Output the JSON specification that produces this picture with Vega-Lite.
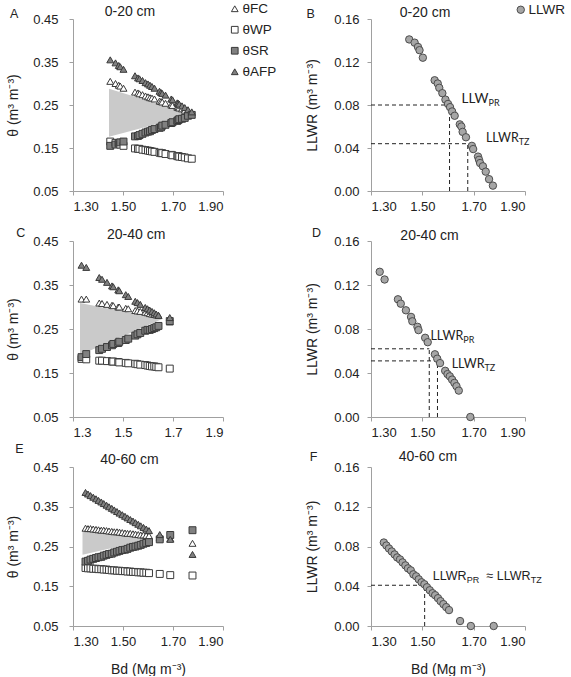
{
  "$schema": "https://vega.github.io/schema/vega-lite/v6.json",
  "padding": {"left": 6, "top": 2, "right": 0, "bottom": 0},
  "config": {
    "view": {"stroke": null},
    "font": "Liberation Sans",
    "axis": {"grid": false, "domainColor": "#a0a0a0", "tickColor": "#a0a0a0", "tickSize": 4, "labelFontSize": 13, "labelColor": "#222222", "labelPadding": 5, "titleFontSize": 14, "titleFontWeight": "normal", "titleColor": "#222222"},
    "legend": {"labelFont": "Liberation Sans", "labelFontSize": 13.5, "labelColor": "#222222", "padding": 0},
    "text": {"color": "#222222"}
  },
  "datasets": {
    "soil": [
      {"d": "0-20 cm", "Bd": 1.449, "FC": 0.305, "WP": 0.165, "SR": 0.155, "AFP": 0.355, "LLWR": 0.141},
      {"d": "0-20 cm", "Bd": 1.470, "FC": 0.300, "WP": 0.162, "SR": 0.158, "AFP": 0.348, "LLWR": 0.138},
      {"d": "0-20 cm", "Bd": 1.483, "FC": 0.296, "WP": 0.160, "SR": 0.162, "AFP": 0.342, "LLWR": 0.134},
      {"d": "0-20 cm", "Bd": 1.489, "FC": 0.294, "WP": 0.158, "SR": 0.163, "AFP": 0.339, "LLWR": 0.131},
      {"d": "0-20 cm", "Bd": 1.502, "FC": 0.289, "WP": 0.155, "SR": 0.165, "AFP": 0.333, "LLWR": 0.124},
      {"d": "0-20 cm", "Bd": 1.548, "FC": 0.280, "WP": 0.149, "SR": 0.177, "AFP": 0.318, "LLWR": 0.103},
      {"d": "0-20 cm", "Bd": 1.560, "FC": 0.278, "WP": 0.148, "SR": 0.178, "AFP": 0.313, "LLWR": 0.100},
      {"d": "0-20 cm", "Bd": 1.566, "FC": 0.276, "WP": 0.148, "SR": 0.180, "AFP": 0.311, "LLWR": 0.096},
      {"d": "0-20 cm", "Bd": 1.578, "FC": 0.274, "WP": 0.146, "SR": 0.183, "AFP": 0.307, "LLWR": 0.091},
      {"d": "0-20 cm", "Bd": 1.590, "FC": 0.271, "WP": 0.145, "SR": 0.186, "AFP": 0.302, "LLWR": 0.085},
      {"d": "0-20 cm", "Bd": 1.600, "FC": 0.269, "WP": 0.144, "SR": 0.188, "AFP": 0.299, "LLWR": 0.081},
      {"d": "0-20 cm", "Bd": 1.608, "FC": 0.267, "WP": 0.143, "SR": 0.189, "AFP": 0.296, "LLWR": 0.078},
      {"d": "0-20 cm", "Bd": 1.616, "FC": 0.266, "WP": 0.142, "SR": 0.192, "AFP": 0.293, "LLWR": 0.074},
      {"d": "0-20 cm", "Bd": 1.626, "FC": 0.264, "WP": 0.141, "SR": 0.194, "AFP": 0.289, "LLWR": 0.070},
      {"d": "0-20 cm", "Bd": 1.646, "FC": 0.259, "WP": 0.139, "SR": 0.197, "AFP": 0.282, "LLWR": 0.062},
      {"d": "0-20 cm", "Bd": 1.652, "FC": 0.258, "WP": 0.138, "SR": 0.198, "AFP": 0.279, "LLWR": 0.060},
      {"d": "0-20 cm", "Bd": 1.657, "FC": 0.257, "WP": 0.138, "SR": 0.202, "AFP": 0.277, "LLWR": 0.055},
      {"d": "0-20 cm", "Bd": 1.670, "FC": 0.254, "WP": 0.136, "SR": 0.204, "AFP": 0.273, "LLWR": 0.050},
      {"d": "0-20 cm", "Bd": 1.693, "FC": 0.250, "WP": 0.134, "SR": 0.208, "AFP": 0.264, "LLWR": 0.042},
      {"d": "0-20 cm", "Bd": 1.698, "FC": 0.249, "WP": 0.133, "SR": 0.210, "AFP": 0.262, "LLWR": 0.039},
      {"d": "0-20 cm", "Bd": 1.717, "FC": 0.245, "WP": 0.131, "SR": 0.213, "AFP": 0.255, "LLWR": 0.032},
      {"d": "0-20 cm", "Bd": 1.721, "FC": 0.244, "WP": 0.131, "SR": 0.215, "AFP": 0.254, "LLWR": 0.029},
      {"d": "0-20 cm", "Bd": 1.725, "FC": 0.243, "WP": 0.130, "SR": 0.217, "AFP": 0.252, "LLWR": 0.026},
      {"d": "0-20 cm", "Bd": 1.736, "FC": 0.241, "WP": 0.129, "SR": 0.218, "AFP": 0.248, "LLWR": 0.023},
      {"d": "0-20 cm", "Bd": 1.747, "FC": 0.238, "WP": 0.128, "SR": 0.220, "AFP": 0.244, "LLWR": 0.018},
      {"d": "0-20 cm", "Bd": 1.760, "FC": 0.236, "WP": 0.126, "SR": 0.225, "AFP": 0.239, "LLWR": 0.011},
      {"d": "0-20 cm", "Bd": 1.775, "FC": 0.232, "WP": 0.125, "SR": 0.227, "AFP": 0.234, "LLWR": 0.005},
      {"d": "20-40 cm", "Bd": 1.334, "FC": 0.318, "WP": 0.182, "SR": 0.186, "AFP": 0.395, "LLWR": 0.132},
      {"d": "20-40 cm", "Bd": 1.353, "FC": 0.318, "WP": 0.181, "SR": 0.193, "AFP": 0.390, "LLWR": 0.125},
      {"d": "20-40 cm", "Bd": 1.405, "FC": 0.309, "WP": 0.178, "SR": 0.202, "AFP": 0.367, "LLWR": 0.107},
      {"d": "20-40 cm", "Bd": 1.416, "FC": 0.308, "WP": 0.178, "SR": 0.205, "AFP": 0.363, "LLWR": 0.103},
      {"d": "20-40 cm", "Bd": 1.436, "FC": 0.306, "WP": 0.177, "SR": 0.209, "AFP": 0.356, "LLWR": 0.097},
      {"d": "20-40 cm", "Bd": 1.456, "FC": 0.304, "WP": 0.176, "SR": 0.213, "AFP": 0.348, "LLWR": 0.091},
      {"d": "20-40 cm", "Bd": 1.461, "FC": 0.303, "WP": 0.176, "SR": 0.216, "AFP": 0.346, "LLWR": 0.087},
      {"d": "20-40 cm", "Bd": 1.481, "FC": 0.300, "WP": 0.175, "SR": 0.218, "AFP": 0.339, "LLWR": 0.082},
      {"d": "20-40 cm", "Bd": 1.485, "FC": 0.300, "WP": 0.174, "SR": 0.221, "AFP": 0.337, "LLWR": 0.079},
      {"d": "20-40 cm", "Bd": 1.511, "FC": 0.297, "WP": 0.173, "SR": 0.225, "AFP": 0.328, "LLWR": 0.072},
      {"d": "20-40 cm", "Bd": 1.521, "FC": 0.296, "WP": 0.172, "SR": 0.228, "AFP": 0.324, "LLWR": 0.068},
      {"d": "20-40 cm", "Bd": 1.549, "FC": 0.292, "WP": 0.171, "SR": 0.235, "AFP": 0.313, "LLWR": 0.057},
      {"d": "20-40 cm", "Bd": 1.558, "FC": 0.291, "WP": 0.170, "SR": 0.238, "AFP": 0.310, "LLWR": 0.053},
      {"d": "20-40 cm", "Bd": 1.569, "FC": 0.290, "WP": 0.169, "SR": 0.241, "AFP": 0.306, "LLWR": 0.049},
      {"d": "20-40 cm", "Bd": 1.589, "FC": 0.288, "WP": 0.168, "SR": 0.246, "AFP": 0.299, "LLWR": 0.042},
      {"d": "20-40 cm", "Bd": 1.598, "FC": 0.287, "WP": 0.167, "SR": 0.248, "AFP": 0.296, "LLWR": 0.039},
      {"d": "20-40 cm", "Bd": 1.607, "FC": 0.285, "WP": 0.166, "SR": 0.248, "AFP": 0.293, "LLWR": 0.037},
      {"d": "20-40 cm", "Bd": 1.616, "FC": 0.284, "WP": 0.165, "SR": 0.250, "AFP": 0.290, "LLWR": 0.034},
      {"d": "20-40 cm", "Bd": 1.625, "FC": 0.283, "WP": 0.165, "SR": 0.252, "AFP": 0.287, "LLWR": 0.031},
      {"d": "20-40 cm", "Bd": 1.633, "FC": 0.282, "WP": 0.164, "SR": 0.254, "AFP": 0.284, "LLWR": 0.028},
      {"d": "20-40 cm", "Bd": 1.642, "FC": 0.281, "WP": 0.163, "SR": 0.257, "AFP": 0.281, "LLWR": 0.024},
      {"d": "20-40 cm", "Bd": 1.687, "FC": 0.266, "WP": 0.160, "SR": 0.268, "AFP": 0.276, "LLWR": 0.000},
      {"d": "40-60 cm", "Bd": 1.350, "FC": 0.296, "WP": 0.196, "SR": 0.212, "AFP": 0.386, "LLWR": 0.084},
      {"d": "40-60 cm", "Bd": 1.360, "FC": 0.295, "WP": 0.195, "SR": 0.214, "AFP": 0.382, "LLWR": 0.081},
      {"d": "40-60 cm", "Bd": 1.370, "FC": 0.295, "WP": 0.195, "SR": 0.217, "AFP": 0.378, "LLWR": 0.078},
      {"d": "40-60 cm", "Bd": 1.381, "FC": 0.294, "WP": 0.194, "SR": 0.219, "AFP": 0.374, "LLWR": 0.075},
      {"d": "40-60 cm", "Bd": 1.392, "FC": 0.293, "WP": 0.194, "SR": 0.221, "AFP": 0.370, "LLWR": 0.072},
      {"d": "40-60 cm", "Bd": 1.402, "FC": 0.292, "WP": 0.193, "SR": 0.223, "AFP": 0.366, "LLWR": 0.069},
      {"d": "40-60 cm", "Bd": 1.413, "FC": 0.291, "WP": 0.193, "SR": 0.224, "AFP": 0.362, "LLWR": 0.067},
      {"d": "40-60 cm", "Bd": 1.423, "FC": 0.291, "WP": 0.192, "SR": 0.227, "AFP": 0.358, "LLWR": 0.064},
      {"d": "40-60 cm", "Bd": 1.434, "FC": 0.290, "WP": 0.192, "SR": 0.229, "AFP": 0.354, "LLWR": 0.061},
      {"d": "40-60 cm", "Bd": 1.444, "FC": 0.289, "WP": 0.191, "SR": 0.231, "AFP": 0.350, "LLWR": 0.058},
      {"d": "40-60 cm", "Bd": 1.455, "FC": 0.288, "WP": 0.190, "SR": 0.232, "AFP": 0.346, "LLWR": 0.056},
      {"d": "40-60 cm", "Bd": 1.465, "FC": 0.287, "WP": 0.190, "SR": 0.235, "AFP": 0.342, "LLWR": 0.052},
      {"d": "40-60 cm", "Bd": 1.476, "FC": 0.287, "WP": 0.189, "SR": 0.237, "AFP": 0.338, "LLWR": 0.050},
      {"d": "40-60 cm", "Bd": 1.486, "FC": 0.286, "WP": 0.189, "SR": 0.239, "AFP": 0.334, "LLWR": 0.047},
      {"d": "40-60 cm", "Bd": 1.497, "FC": 0.285, "WP": 0.188, "SR": 0.241, "AFP": 0.330, "LLWR": 0.044},
      {"d": "40-60 cm", "Bd": 1.508, "FC": 0.284, "WP": 0.188, "SR": 0.242, "AFP": 0.326, "LLWR": 0.042},
      {"d": "40-60 cm", "Bd": 1.518, "FC": 0.283, "WP": 0.187, "SR": 0.244, "AFP": 0.322, "LLWR": 0.039},
      {"d": "40-60 cm", "Bd": 1.529, "FC": 0.283, "WP": 0.187, "SR": 0.247, "AFP": 0.318, "LLWR": 0.036},
      {"d": "40-60 cm", "Bd": 1.540, "FC": 0.282, "WP": 0.186, "SR": 0.249, "AFP": 0.314, "LLWR": 0.033},
      {"d": "40-60 cm", "Bd": 1.550, "FC": 0.281, "WP": 0.186, "SR": 0.250, "AFP": 0.310, "LLWR": 0.031},
      {"d": "40-60 cm", "Bd": 1.561, "FC": 0.280, "WP": 0.185, "SR": 0.252, "AFP": 0.306, "LLWR": 0.028},
      {"d": "40-60 cm", "Bd": 1.571, "FC": 0.279, "WP": 0.185, "SR": 0.254, "AFP": 0.302, "LLWR": 0.025},
      {"d": "40-60 cm", "Bd": 1.582, "FC": 0.279, "WP": 0.184, "SR": 0.257, "AFP": 0.298, "LLWR": 0.022},
      {"d": "40-60 cm", "Bd": 1.593, "FC": 0.278, "WP": 0.184, "SR": 0.259, "AFP": 0.294, "LLWR": 0.019},
      {"d": "40-60 cm", "Bd": 1.604, "FC": 0.277, "WP": 0.183, "SR": 0.261, "AFP": 0.290, "LLWR": 0.016},
      {"d": "40-60 cm", "Bd": 1.647, "FC": 0.273, "WP": 0.181, "SR": 0.268, "AFP": 0.280, "LLWR": 0.005},
      {"d": "40-60 cm", "Bd": 1.689, "FC": 0.270, "WP": 0.178, "SR": 0.279, "AFP": 0.268, "LLWR": 0.000},
      {"d": "40-60 cm", "Bd": 1.778, "FC": 0.258, "WP": 0.177, "SR": 0.291, "AFP": 0.230, "LLWR": 0.000}
    ],
    "shade": [
      {"d": "0-20 cm", "Bd": 1.444, "theta": 0.288, "theta2": 0.176},
      {"d": "0-20 cm", "Bd": 1.780, "theta": 0.228, "theta2": 0.228},
      {"d": "20-40 cm", "Bd": 1.328, "theta": 0.309, "theta2": 0.191},
      {"d": "20-40 cm", "Bd": 1.657, "theta": 0.273, "theta2": 0.273},
      {"d": "40-60 cm", "Bd": 1.338, "theta": 0.289, "theta2": 0.229},
      {"d": "40-60 cm", "Bd": 1.610, "theta": 0.268, "theta2": 0.268}
    ],
    "limits": [
      {"d": "0-20 cm", "Bd": 1.606, "LLWR": 0.080, "main": "LLW", "sub": "PR"},
      {"d": "0-20 cm", "Bd": 1.677, "LLWR": 0.044, "main": "LLWR", "sub": "TZ"},
      {"d": "20-40 cm", "Bd": 1.527, "LLWR": 0.062, "main": "LLWR", "sub": "PR"},
      {"d": "20-40 cm", "Bd": 1.559, "LLWR": 0.051, "main": "LLWR", "sub": "TZ"},
      {"d": "40-60 cm", "Bd": 1.509, "LLWR": 0.041, "main": "LLWR", "sub": "PR", "main2": "≈ LLWR", "sub2": "TZ"}
    ]
  },
  "columns": 2,
  "bounds": "flush",
  "align": "each",
  "spacing": {"row": 50, "column": 148},
  "resolve": {
    "scale": {"fill": "independent", "shape": "independent", "stroke": "independent"},
    "legend": {"fill": "independent", "shape": "independent", "stroke": "independent"}
  },
  "concat": [
    {
      "width": 150, "height": 172,
      "encoding": {
        "x": {"field": "Bd", "type": "quantitative", "scale": {"domain": [1.3, 1.9], "nice": false, "zero": false}, "axis": {"values": [1.3, 1.5, 1.7, 1.9], "format": ".2f", "title": null}},
        "y": {"field": "theta", "type": "quantitative", "scale": {"domain": [0.05, 0.45], "nice": false, "zero": false}, "axis": {"values": [0.05, 0.15, 0.25, 0.35, 0.45], "format": ".2f", "title": "θ (m³ m⁻³)", "labelPadding": 11, "titlePadding": 12}}
      },
      "layer": [
        {"data": {"name": "shade"}, "transform": [{"filter": "datum.d == '0-20 cm'"}], "mark": {"type": "area", "color": "#cacaca"}, "encoding": {"y2": {"field": "theta2"}}},
        {
          "data": {"name": "soil"},
          "transform": [{"filter": "datum.d == '0-20 cm'"}, {"fold": ["FC", "WP", "SR", "AFP"], "as": ["series", "theta"]}],
          "mark": {"type": "point", "filled": true, "size": 48, "strokeWidth": 1, "opacity": 1},
          "encoding": {
            "shape": {"field": "series", "type": "nominal", "scale": {"domain": ["FC", "WP", "SR", "AFP"], "range": ["triangle-up", "square", "square", "triangle-up"]}, "legend": {"title": null, "orient": "none", "legendX": 155, "legendY": -17, "labelExpr": "'θ' + datum.label", "symbolSize": 45, "symbolStrokeWidth": 1, "rowPadding": 6, "labelOffset": 1}},
            "fill": {"field": "series", "type": "nominal", "scale": {"domain": ["FC", "WP", "SR", "AFP"], "range": ["#ffffff", "#ffffff", "#808080", "#808080"]}, "legend": {"title": null, "orient": "none", "legendX": 155, "legendY": -17, "labelExpr": "'θ' + datum.label", "symbolSize": 45, "symbolStrokeWidth": 1, "rowPadding": 6, "labelOffset": 1}},
            "stroke": {"field": "series", "type": "nominal", "scale": {"domain": ["FC", "WP", "SR", "AFP"], "range": ["#3a3a3a", "#3a3a3a", "#3a3a3a", "#3a3a3a"]}, "legend": {"title": null, "orient": "none", "legendX": 155, "legendY": -17, "labelExpr": "'θ' + datum.label", "symbolSize": 45, "symbolStrokeWidth": 1, "rowPadding": 6, "labelOffset": 1}}
          }
        },
        {"data": {"name": "shade"}, "transform": [{"filter": "datum.d == '0-20 cm' && datum.theta > datum.theta2"}], "mark": {"type": "text", "text": "A", "align": "left", "baseline": "alphabetic", "fontSize": 12.5, "dx": -99, "dy": -70.7}},
        {"data": {"name": "shade"}, "transform": [{"filter": "datum.d == '0-20 cm' && datum.theta > datum.theta2"}], "mark": {"type": "text", "align": "left", "baseline": "alphabetic", "fontSize": 14, "dx": -4.3, "dy": -72.7}, "encoding": {"text": {"field": "d", "type": "nominal"}}}
      ]
    },
    {
      "width": 154, "height": 172,
      "encoding": {
        "x": {"field": "Bd", "type": "quantitative", "scale": {"domain": [1.3, 1.9], "nice": false, "zero": false}, "axis": {"values": [1.3, 1.5, 1.7, 1.9], "format": ".2f", "title": null}},
        "y": {"field": "LLWR", "type": "quantitative", "scale": {"domain": [0, 0.16], "nice": false}, "axis": {"values": [0, 0.04, 0.08, 0.12, 0.16], "format": ".2f", "title": "LLWR (m³ m⁻³)", "labelPadding": 8, "titlePadding": 14}}
      },
      "layer": [
        {"data": {"name": "limits"}, "transform": [{"filter": "datum.d == '0-20 cm'"}], "mark": {"type": "rule", "color": "#222222", "strokeDash": [4, 3], "strokeWidth": 1}, "encoding": {"x": {"datum": 1.3}, "x2": {"field": "Bd"}}},
        {"data": {"name": "limits"}, "transform": [{"filter": "datum.d == '0-20 cm'"}], "mark": {"type": "rule", "color": "#222222", "strokeDash": [4, 3], "strokeWidth": 1}, "encoding": {"y": {"datum": 0}, "y2": {"field": "LLWR"}}},
        {
          "data": {"name": "soil"},
          "transform": [{"filter": "datum.d == '0-20 cm'"}],
          "mark": {"type": "circle", "size": 55, "stroke": "#4d4d4d", "strokeWidth": 1, "opacity": 1},
          "encoding": {"fill": {"datum": "LLWR", "type": "nominal", "scale": {"range": ["#a6a6a6"]}, "legend": {"title": null, "orient": "none", "legendX": 143, "legendY": -16, "symbolType": "circle", "symbolSize": 55, "symbolStrokeColor": "#4d4d4d", "symbolStrokeWidth": 1, "labelOffset": 1}}}
        },
        {"data": {"name": "limits"}, "transform": [{"filter": "datum.d == '0-20 cm' && datum.sub == 'PR'"}], "mark": {"type": "text", "align": "right", "baseline": "alphabetic", "font": "Lato", "fontSize": 13.5, "dx": 39, "dy": -2.5}, "encoding": {"text": {"field": "main", "type": "nominal"}}},
        {"data": {"name": "limits"}, "transform": [{"filter": "datum.d == '0-20 cm' && datum.sub == 'PR'"}], "mark": {"type": "text", "align": "left", "baseline": "alphabetic", "font": "Lato", "fontSize": 9, "dx": 39, "dy": 0.5}, "encoding": {"text": {"field": "sub", "type": "nominal"}}},
        {"data": {"name": "limits"}, "transform": [{"filter": "datum.d == '0-20 cm' && datum.sub == 'TZ'"}], "mark": {"type": "text", "align": "right", "baseline": "alphabetic", "font": "Lato", "fontSize": 12.5, "dx": 51, "dy": -1.6}, "encoding": {"text": {"field": "main", "type": "nominal"}}},
        {"data": {"name": "limits"}, "transform": [{"filter": "datum.d == '0-20 cm' && datum.sub == 'TZ'"}], "mark": {"type": "text", "align": "left", "baseline": "alphabetic", "font": "Lato", "fontSize": 9, "dx": 51, "dy": 1.4}, "encoding": {"text": {"field": "sub", "type": "nominal"}}},
        {"data": {"name": "limits"}, "transform": [{"filter": "datum.d == '0-20 cm' && datum.sub == 'PR'"}], "mark": {"type": "text", "text": "B", "align": "left", "baseline": "alphabetic", "fontSize": 12.5, "dx": -143, "dy": -87}},
        {"data": {"name": "limits"}, "transform": [{"filter": "datum.d == '0-20 cm' && datum.sub == 'PR'"}], "mark": {"type": "text", "align": "left", "baseline": "alphabetic", "fontSize": 14, "dx": -49.8, "dy": -88.3}, "encoding": {"text": {"field": "d", "type": "nominal"}}}
      ]
    },
    {
      "width": 150, "height": 176,
      "encoding": {
        "x": {"field": "Bd", "type": "quantitative", "scale": {"domain": [1.3, 1.9], "nice": false, "zero": false}, "axis": {"values": [1.3, 1.5, 1.7, 1.9], "format": ".1f", "title": null}},
        "y": {"field": "theta", "type": "quantitative", "scale": {"domain": [0.05, 0.45], "nice": false, "zero": false}, "axis": {"values": [0.05, 0.15, 0.25, 0.35, 0.45], "format": ".2f", "title": "θ (m³ m⁻³)", "labelPadding": 11, "titlePadding": 12}}
      },
      "layer": [
        {"data": {"name": "shade"}, "transform": [{"filter": "datum.d == '20-40 cm'"}], "mark": {"type": "area", "color": "#cacaca"}, "encoding": {"y2": {"field": "theta2"}}},
        {
          "data": {"name": "soil"},
          "transform": [{"filter": "datum.d == '20-40 cm'"}, {"fold": ["FC", "WP", "SR", "AFP"], "as": ["series", "theta"]}],
          "mark": {"type": "point", "filled": true, "size": 48, "stroke": "#3a3a3a", "strokeWidth": 1, "opacity": 1},
          "encoding": {
            "shape": {"field": "series", "type": "nominal", "scale": {"domain": ["FC", "WP", "SR", "AFP"], "range": ["triangle-up", "square", "square", "triangle-up"]}, "legend": null},
            "fill": {"field": "series", "type": "nominal", "scale": {"domain": ["FC", "WP", "SR", "AFP"], "range": ["#ffffff", "#ffffff", "#808080", "#808080"]}, "legend": null}
          }
        },
        {"data": {"name": "shade"}, "transform": [{"filter": "datum.d == '20-40 cm' && datum.theta > datum.theta2"}], "mark": {"type": "text", "text": "C", "align": "left", "baseline": "alphabetic", "fontSize": 12.5, "dx": -63.7, "dy": -66.3}},
        {"data": {"name": "shade"}, "transform": [{"filter": "datum.d == '20-40 cm' && datum.theta > datum.theta2"}], "mark": {"type": "text", "align": "left", "baseline": "alphabetic", "fontSize": 14, "dx": 27, "dy": -63.7}, "encoding": {"text": {"field": "d", "type": "nominal"}}}
      ]
    },
    {
      "width": 154, "height": 176,
      "encoding": {
        "x": {"field": "Bd", "type": "quantitative", "scale": {"domain": [1.3, 1.9], "nice": false, "zero": false}, "axis": {"values": [1.3, 1.5, 1.7, 1.9], "format": ".2f", "title": null}},
        "y": {"field": "LLWR", "type": "quantitative", "scale": {"domain": [0, 0.16], "nice": false}, "axis": {"values": [0, 0.04, 0.08, 0.12, 0.16], "format": ".2f", "title": "LLWR (m³ m⁻³)", "labelPadding": 8, "titlePadding": 14}}
      },
      "layer": [
        {"data": {"name": "limits"}, "transform": [{"filter": "datum.d == '20-40 cm'"}], "mark": {"type": "rule", "color": "#222222", "strokeDash": [4, 3], "strokeWidth": 1}, "encoding": {"x": {"datum": 1.3}, "x2": {"field": "Bd"}}},
        {"data": {"name": "limits"}, "transform": [{"filter": "datum.d == '20-40 cm'"}], "mark": {"type": "rule", "color": "#222222", "strokeDash": [4, 3], "strokeWidth": 1}, "encoding": {"y": {"datum": 0}, "y2": {"field": "LLWR"}}},
        {"data": {"name": "soil"}, "transform": [{"filter": "datum.d == '20-40 cm'"}], "mark": {"type": "circle", "size": 55, "fill": "#a6a6a6", "stroke": "#4d4d4d", "strokeWidth": 1, "opacity": 1}},
        {"data": {"name": "limits"}, "transform": [{"filter": "datum.d == '20-40 cm' && datum.sub == 'PR'"}], "mark": {"type": "text", "align": "right", "baseline": "alphabetic", "font": "Lato", "fontSize": 12.5, "dx": 34, "dy": -8.8}, "encoding": {"text": {"field": "main", "type": "nominal"}}},
        {"data": {"name": "limits"}, "transform": [{"filter": "datum.d == '20-40 cm' && datum.sub == 'PR'"}], "mark": {"type": "text", "align": "left", "baseline": "alphabetic", "font": "Lato", "fontSize": 9, "dx": 34, "dy": -5.8}, "encoding": {"text": {"field": "sub", "type": "nominal"}}},
        {"data": {"name": "limits"}, "transform": [{"filter": "datum.d == '20-40 cm' && datum.sub == 'TZ'"}], "mark": {"type": "text", "align": "right", "baseline": "alphabetic", "font": "Lato", "fontSize": 12.5, "dx": 47, "dy": 7.5}, "encoding": {"text": {"field": "main", "type": "nominal"}}},
        {"data": {"name": "limits"}, "transform": [{"filter": "datum.d == '20-40 cm' && datum.sub == 'TZ'"}], "mark": {"type": "text", "align": "left", "baseline": "alphabetic", "font": "Lato", "fontSize": 9, "dx": 47, "dy": 10.5}, "encoding": {"text": {"field": "sub", "type": "nominal"}}},
        {"data": {"name": "limits"}, "transform": [{"filter": "datum.d == '20-40 cm' && datum.sub == 'PR'"}], "mark": {"type": "text", "text": "D", "align": "left", "baseline": "alphabetic", "fontSize": 12.5, "dx": -117.3, "dy": -111.4}},
        {"data": {"name": "limits"}, "transform": [{"filter": "datum.d == '20-40 cm' && datum.sub == 'PR'"}], "mark": {"type": "text", "align": "left", "baseline": "alphabetic", "fontSize": 14, "dx": -28.9, "dy": -108.8}, "encoding": {"text": {"field": "d", "type": "nominal"}}}
      ]
    },
    {
      "width": 150, "height": 159,
      "encoding": {
        "x": {"field": "Bd", "type": "quantitative", "scale": {"domain": [1.3, 1.9], "nice": false, "zero": false}, "axis": {"values": [1.3, 1.5, 1.7, 1.9], "format": ".2f", "title": "Bd (Mg m⁻³)", "titlePadding": 14}},
        "y": {"field": "theta", "type": "quantitative", "scale": {"domain": [0.05, 0.45], "nice": false, "zero": false}, "axis": {"values": [0.05, 0.15, 0.25, 0.35, 0.45], "format": ".2f", "title": "θ (m³ m⁻³)", "labelPadding": 11, "titlePadding": 12}}
      },
      "layer": [
        {"data": {"name": "shade"}, "transform": [{"filter": "datum.d == '40-60 cm'"}], "mark": {"type": "area", "color": "#cacaca"}, "encoding": {"y2": {"field": "theta2"}}},
        {
          "data": {"name": "soil"},
          "transform": [{"filter": "datum.d == '40-60 cm'"}, {"fold": ["FC", "WP", "SR", "AFP"], "as": ["series", "theta"]}],
          "mark": {"type": "point", "filled": true, "size": 48, "stroke": "#3a3a3a", "strokeWidth": 1, "opacity": 1},
          "encoding": {
            "shape": {"field": "series", "type": "nominal", "scale": {"domain": ["FC", "WP", "SR", "AFP"], "range": ["triangle-up", "square", "square", "triangle-up"]}, "legend": null},
            "fill": {"field": "series", "type": "nominal", "scale": {"domain": ["FC", "WP", "SR", "AFP"], "range": ["#ffffff", "#ffffff", "#808080", "#808080"]}, "legend": null}
          }
        },
        {"data": {"name": "shade"}, "transform": [{"filter": "datum.d == '40-60 cm' && datum.theta > datum.theta2"}], "mark": {"type": "text", "text": "E", "align": "left", "baseline": "alphabetic", "fontSize": 12.5, "dx": -67.2, "dy": -78}},
        {"data": {"name": "shade"}, "transform": [{"filter": "datum.d == '40-60 cm' && datum.theta > datum.theta2"}], "mark": {"type": "text", "align": "left", "baseline": "alphabetic", "fontSize": 14, "dx": 17.8, "dy": -67}, "encoding": {"text": {"field": "d", "type": "nominal"}}}
      ]
    },
    {
      "width": 154, "height": 159,
      "encoding": {
        "x": {"field": "Bd", "type": "quantitative", "scale": {"domain": [1.3, 1.9], "nice": false, "zero": false}, "axis": {"values": [1.3, 1.5, 1.7, 1.9], "format": ".2f", "title": "Bd (Mg m⁻³)", "titlePadding": 14}},
        "y": {"field": "LLWR", "type": "quantitative", "scale": {"domain": [0, 0.16], "nice": false}, "axis": {"values": [0, 0.04, 0.08, 0.12, 0.16], "format": ".2f", "title": "LLWR (m³ m⁻³)", "labelPadding": 8, "titlePadding": 14}}
      },
      "layer": [
        {"data": {"name": "limits"}, "transform": [{"filter": "datum.d == '40-60 cm'"}], "mark": {"type": "rule", "color": "#222222", "strokeDash": [4, 3], "strokeWidth": 1}, "encoding": {"x": {"datum": 1.3}, "x2": {"field": "Bd"}}},
        {"data": {"name": "limits"}, "transform": [{"filter": "datum.d == '40-60 cm'"}], "mark": {"type": "rule", "color": "#222222", "strokeDash": [4, 3], "strokeWidth": 1}, "encoding": {"y": {"datum": 0}, "y2": {"field": "LLWR"}}},
        {"data": {"name": "soil"}, "transform": [{"filter": "datum.d == '40-60 cm'"}], "mark": {"type": "circle", "size": 55, "fill": "#a6a6a6", "stroke": "#4d4d4d", "strokeWidth": 1, "opacity": 1}},
        {"data": {"name": "limits"}, "transform": [{"filter": "datum.d == '40-60 cm'"}], "mark": {"type": "text", "align": "right", "baseline": "alphabetic", "fontSize": 12.5, "dx": 42, "dy": -4.8}, "encoding": {"text": {"field": "main", "type": "nominal"}}},
        {"data": {"name": "limits"}, "transform": [{"filter": "datum.d == '40-60 cm'"}], "mark": {"type": "text", "align": "left", "baseline": "alphabetic", "fontSize": 9, "dx": 42, "dy": -1.8}, "encoding": {"text": {"field": "sub", "type": "nominal"}}},
        {"data": {"name": "limits"}, "transform": [{"filter": "datum.d == '40-60 cm'"}], "mark": {"type": "text", "align": "right", "baseline": "alphabetic", "fontSize": 12.5, "dx": 106, "dy": -4.8}, "encoding": {"text": {"field": "main2", "type": "nominal"}}},
        {"data": {"name": "limits"}, "transform": [{"filter": "datum.d == '40-60 cm'"}], "mark": {"type": "text", "align": "left", "baseline": "alphabetic", "fontSize": 9, "dx": 106, "dy": -1.8}, "encoding": {"text": {"field": "sub2", "type": "nominal"}}},
        {"data": {"name": "limits"}, "transform": [{"filter": "datum.d == '40-60 cm'"}], "mark": {"type": "text", "text": "F", "align": "left", "baseline": "alphabetic", "fontSize": 12.5, "dx": -114.9, "dy": -124}},
        {"data": {"name": "limits"}, "transform": [{"filter": "datum.d == '40-60 cm'"}], "mark": {"type": "text", "align": "left", "baseline": "alphabetic", "fontSize": 14, "dx": -25.9, "dy": -124}, "encoding": {"text": {"field": "d", "type": "nominal"}}}
      ]
    }
  ]
}
